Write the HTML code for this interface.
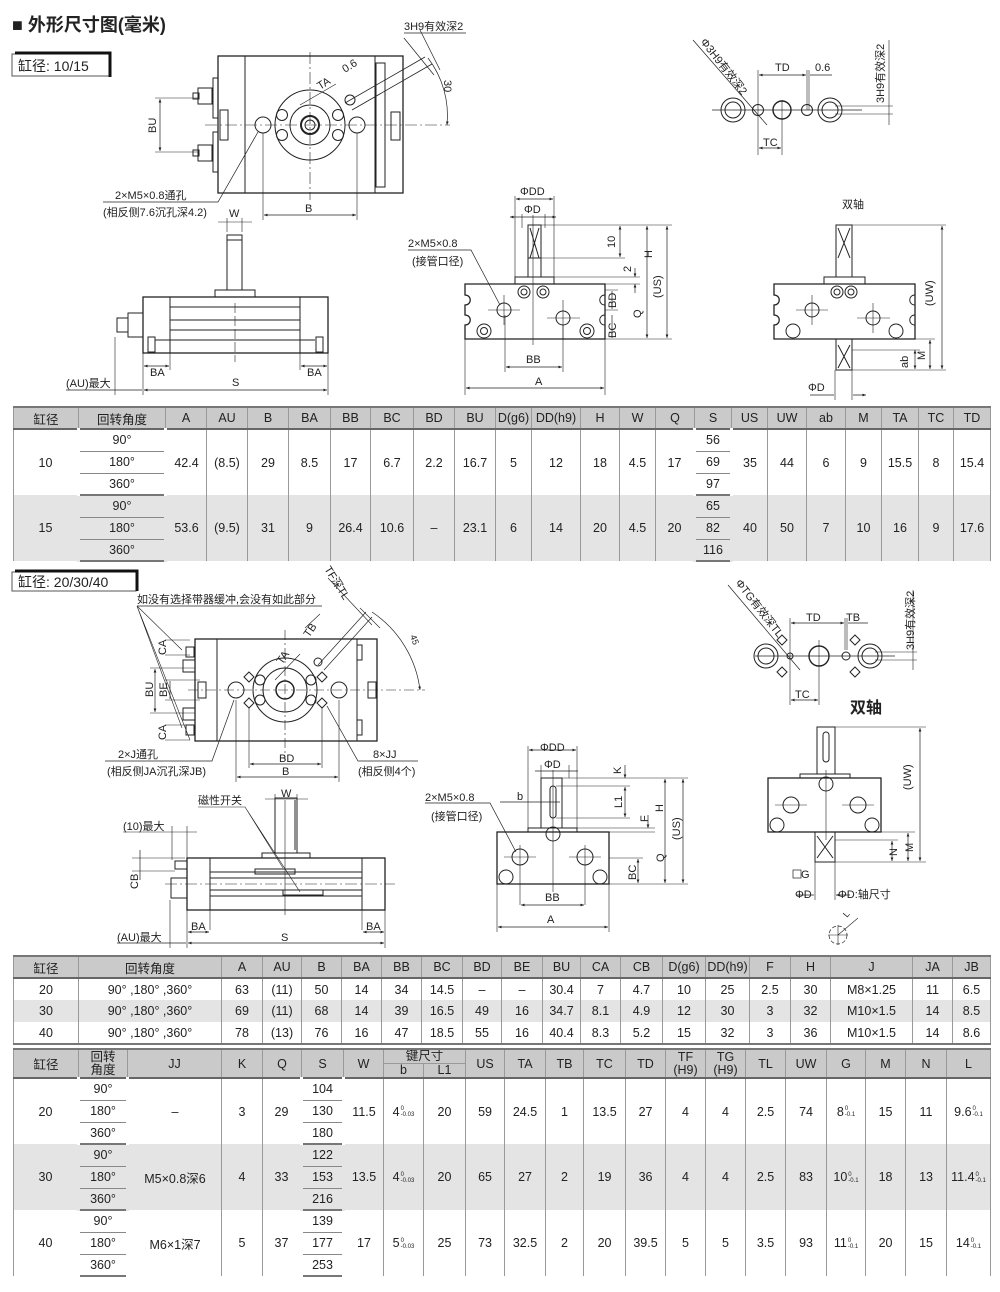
<!DOCTYPE html>
<html><head><meta charset="utf-8">
<style>
*{margin:0;padding:0;box-sizing:border-box}
body{width:1000px;height:1292px;background:#fff;position:relative;overflow:hidden;font-family:"Liberation Sans","Noto Sans CJK SC",sans-serif;color:#222}
svg{position:absolute;left:0;top:0}
svg text{font-family:"Liberation Sans","Noto Sans CJK SC",sans-serif;font-size:11px;fill:#222}
table{position:absolute;left:13px;border-collapse:collapse;table-layout:fixed;font-size:12.5px;text-align:center}
td,th{border-left:1px solid #999;border-right:1px solid #999;height:22px;padding:0;font-weight:normal;white-space:nowrap;overflow:hidden}
th{background:#cacaca;border-bottom:2px solid #666}
tr.e td{border-bottom:2px solid #777}
.g td{background:#e4e4e4}
td.b{border:1px solid #888;border-left:3px solid #fff;border-right:3px solid #fff;outline:0}
.g td.b{border-left:3px solid #e4e4e4;border-right:3px solid #e4e4e4}
table tr:first-child th{border-top:2px solid #777}
.t{display:inline-block;font-size:6px;line-height:6px;vertical-align:middle;text-align:left;margin-left:1px}
</style></head><body>

<svg width="1000" height="1292" viewBox="0 0 1000 1292">
<defs><marker id="a" markerWidth="6" markerHeight="6" refX="5" refY="3" orient="auto-start-reverse"><path d="M0,1 L5,3 L0,5z" fill="#222"/></marker></defs>
<g fill="none" stroke="#222" stroke-width="1">
<rect x="12" y="54" width="97" height="22" stroke="#555"/>
<path d="M15,53 H110 V77" stroke="#111" stroke-width="3"/>
<rect x="218" y="56" width="185" height="137" stroke-width="1.3"/>
<line x1="245" y1="56" x2="245" y2="193"/><line x1="375" y1="56" x2="375" y2="193"/>
<rect x="376" y="63" width="9" height="124"/>
<circle cx="310" cy="125" r="35"/><circle cx="310" cy="125" r="20"/><circle cx="310" cy="125" r="9" stroke-width="2"/><circle cx="310" cy="125" r="5"/>
<circle cx="263" cy="125" r="8"/><circle cx="357" cy="125" r="8"/>
<circle cx="282" cy="115" r="5.5"/><circle cx="282" cy="135" r="5.5"/><circle cx="338" cy="115" r="5.5"/><circle cx="338" cy="135" r="5.5"/>
<rect x="213" y="78" width="5" height="40"/><rect x="213" y="132" width="5" height="40"/>
<rect x="198" y="88" width="14" height="16"/><rect x="193" y="93" width="6" height="6"/><rect x="198" y="145" width="14" height="16"/><rect x="193" y="150" width="6" height="6"/>
<rect x="220" y="110" width="8" height="30"/><rect x="391" y="112" width="9" height="28"/>
<path d="M205,125 H450 M310,52 V200" stroke-width=".6" stroke-dasharray="12,3,2,3"/>
<path d="M155,98 H198 M155,152 H198" stroke-width=".6"/><line x1="160" y1="99" x2="160" y2="151" stroke-width=".7" marker-start="url(#a)" marker-end="url(#a)"/>
<path d="M345,103 L425,57 M352,110 L432,64" stroke-width=".8"/><circle cx="350" cy="100" r="5"/>
<path d="M404,38 L434,75 M420,30 L440,70" stroke-width=".7"/>
<path d="M404,33 H466" stroke-width=".7"/>
<path d="M428,58 A95,95 0 0 1 447,125" stroke-width=".7" marker-end="url(#a)"/>
<line x1="300" y1="105" x2="336" y2="84" stroke-width=".6"/>
<path d="M103,202 H218 L258,132" stroke-width=".7"/>
<path d="M263,133 V220 M357,133 V220" stroke-width=".6"/><line x1="264" y1="215" x2="356" y2="215" stroke-width=".7" marker-start="url(#a)" marker-end="url(#a)"/>
<path d="M218,222 H252 M227,218 V232 M242,218 V232" stroke-width=".6"/>
<rect x="227" y="235" width="15" height="55"/><line x1="227" y1="240" x2="242" y2="240"/>
<rect x="215" y="290" width="40" height="7"/>
<rect x="143" y="297" width="185" height="56" stroke-width="1.3"/>
<path d="M170,297 V353 M300,297 V353 M170,307 H300 M170,320 H300 M170,330 H300 M155,340 H315"/>
<rect x="148" y="337" width="7" height="15"/><rect x="316" y="337" width="7" height="15"/>
<rect x="128" y="313" width="15" height="24"/><rect x="117" y="318" width="11" height="14"/>
<path d="M235,303 V362" stroke-width=".6" stroke-dasharray="10,3"/>
<path d="M115,337 V395 M143,353 V395 M170,353 V370 M300,353 V370 M328,353 V395" stroke-width=".6"/>
<line x1="144" y1="366" x2="169" y2="366" stroke-width=".7" marker-start="url(#a)" marker-end="url(#a)"/>
<line x1="301" y1="366" x2="327" y2="366" stroke-width=".7" marker-start="url(#a)" marker-end="url(#a)"/>
<line x1="144" y1="390" x2="327" y2="390" stroke-width=".7" marker-start="url(#a)" marker-end="url(#a)"/>
<path d="M66,390 H142" stroke-width=".7"/>
<path d="M712,110 H862" stroke-width=".7"/>
<circle cx="733" cy="110" r="12"/><circle cx="733" cy="110" r="8"/><circle cx="758" cy="110" r="5.5"/><circle cx="782" cy="110" r="9" stroke-width="1.4"/><circle cx="807" cy="110" r="5.5"/><circle cx="830" cy="110" r="12"/><circle cx="830" cy="110" r="8"/>
<path d="M693,40 L767,125" stroke-width=".7"/>
<path d="M758,70 V155 M782,100 V155 M807,70 V110 M809,70 V110" stroke-width=".6"/>
<line x1="759" y1="75" x2="806" y2="75" stroke-width=".7" marker-start="url(#a)" marker-end="url(#a)"/>
<path d="M810,75 H832" stroke-width=".7"/>
<line x1="759" y1="148" x2="781" y2="148" stroke-width=".7" marker-start="url(#a)" marker-end="url(#a)"/>
<path d="M835,106 H893 M835,114 H893 M889,40 V125" stroke-width=".6"/>
<path d="M465,284 H605 V339 H465 V325 C472,325 472,315 465,315 V305 C472,305 472,295 465,295 Z" stroke-width="1.3"/>
<path d="M605,295 C598,295 598,305 605,305 M605,315 C598,315 598,325 605,325"/>
<rect x="515" y="277" width="39" height="7"/>
<rect x="528" y="225" width="13" height="52"/><path d="M530,228 L539,258 M539,228 L530,258 M528,258 H541"/>
<circle cx="524" cy="292" r="6"/><circle cx="524" cy="292" r="3"/><circle cx="543" cy="292" r="6"/><circle cx="543" cy="292" r="3"/>
<circle cx="504" cy="310" r="7"/><circle cx="563" cy="318" r="7"/><circle cx="484" cy="331" r="7"/><circle cx="484" cy="331" r="3.5"/><circle cx="587" cy="331" r="7"/><circle cx="587" cy="331" r="3.5"/>
<path d="M488,310 H520 M547,318 H580 M504,295 V325 M563,300 V340 M533,215 V345" stroke-width=".6"/>
<path d="M515,196 V277 M554,196 V277 M522,214 V228 M545,214 V228" stroke-width=".6"/>
<line x1="516" y1="199" x2="553" y2="199" stroke-width=".7" marker-start="url(#a)" marker-end="url(#a)"/>
<path d="M510,217 H556" stroke-width=".7" marker-start="url(#a)" marker-end="url(#a)"/>
<path d="M541,225 H672 M541,258 H625 M554,277 H640 M605,284 H640 M605,290 H618 M605,310 H618 M605,339 H672" stroke-width=".6"/>
<line x1="620" y1="226" x2="620" y2="257" stroke-width=".7" marker-start="url(#a)" marker-end="url(#a)"/>
<line x1="635" y1="268" x2="635" y2="277" stroke-width=".7" marker-end="url(#a)"/><line x1="635" y1="293" x2="635" y2="284" stroke-width=".7" marker-end="url(#a)"/>
<line x1="647" y1="226" x2="647" y2="338" stroke-width=".7" marker-start="url(#a)" marker-end="url(#a)"/>
<line x1="667" y1="226" x2="667" y2="338" stroke-width=".7" marker-start="url(#a)" marker-end="url(#a)"/>
<line x1="612" y1="291" x2="612" y2="309" stroke-width=".7"/><line x1="612" y1="315" x2="612" y2="338" stroke-width=".7"/>
<path d="M465,339 V395 M605,339 V395 M505,315 V372 M563,325 V372" stroke-width=".6"/>
<line x1="506" y1="367" x2="562" y2="367" stroke-width=".7" marker-start="url(#a)" marker-end="url(#a)"/>
<line x1="466" y1="388" x2="604" y2="388" stroke-width=".7" marker-start="url(#a)" marker-end="url(#a)"/>
<path d="M408,250 H471 L500,305" stroke-width=".7"/>
<path d="M774,284 H915 V339 H774 V325 C781,325 781,315 774,315 V305 C781,305 781,295 774,295 Z" stroke-width="1.3"/>
<path d="M915,295 C908,295 908,305 915,305 M915,315 C908,315 908,325 915,325"/>
<rect x="824" y="277" width="41" height="7"/>
<rect x="836" y="225" width="16" height="52"/><path d="M838,228 L850,258 M850,228 L838,258"/>
<rect x="836" y="339" width="16" height="31"/><path d="M838,345 L850,368 M850,345 L838,368"/>
<circle cx="837" cy="292" r="6"/><circle cx="837" cy="292" r="3"/><circle cx="851" cy="292" r="6"/><circle cx="851" cy="292" r="3"/>
<circle cx="812" cy="310" r="7"/><circle cx="873" cy="318" r="7"/><circle cx="793" cy="331" r="7"/><circle cx="896" cy="331" r="7"/>
<path d="M796,310 H828 M857,318 H890 M812,295 V325 M873,303 V333" stroke-width=".6"/>
<path d="M852,225 H946 M852,370 H946 M915,339 H935" stroke-width=".6"/>
<line x1="942" y1="226" x2="942" y2="369" stroke-width=".7" marker-start="url(#a)" marker-end="url(#a)"/>
<line x1="930" y1="340" x2="930" y2="369" stroke-width=".7" marker-start="url(#a)" marker-end="url(#a)"/>
<line x1="915" y1="350" x2="915" y2="369" stroke-width=".7" marker-start="url(#a)" marker-end="url(#a)"/>
<path d="M852,350 H920 M835,370 V400 M852,370 V400" stroke-width=".6"/>
<path d="M810,395 H834 M853,395 H866" stroke-width=".7" marker-end="url(#a)"/>

<rect x="12" y="572" width="124" height="19" stroke="#555"/>
<path d="M15,571 H137 V591" stroke="#111" stroke-width="3"/>
<path d="M137,606 H322" stroke-width=".7"/>
<path d="M137,606 L182,650 M137,606 L182,728 M137,606 L190,740" stroke-width=".6"/>
<rect x="195" y="639" width="182" height="102" stroke-width="1.3"/>
<path d="M217,639 V741 M357,639 V741"/>
<rect x="357" y="645" width="5" height="15"/><rect x="357" y="720" width="5" height="15"/>
<rect x="198" y="682" width="8" height="16"/><rect x="368" y="682" width="8" height="16"/>
<circle cx="285" cy="690" r="32"/><circle cx="285" cy="690" r="22"/><circle cx="285" cy="690" r="9" stroke-width="1.5"/>
<circle cx="236" cy="690" r="8"/><circle cx="339" cy="690" r="8"/>
<circle cx="260" cy="680" r="5"/><circle cx="260" cy="700" r="5"/><circle cx="311" cy="680" r="5"/><circle cx="311" cy="700" r="5"/>
<path d="M249,672 L254,677 L249,682 L244,677Z M249,698 L254,703 L249,708 L244,703Z M322,672 L327,677 L322,682 L317,677Z M322,698 L327,703 L322,708 L317,703Z"/>
<rect x="183" y="660" width="12" height="12"/><rect x="186" y="647" width="8" height="10"/><rect x="183" y="708" width="12" height="12"/><rect x="186" y="725" width="8" height="10"/>
<path d="M188,690 H425 M285,630 V760" stroke-width=".6" stroke-dasharray="10,3,2,3"/>
<path d="M150,668 H195 M150,713 H195 M165,680 H200 M165,700 H200 M165,640 H190 M165,655 H190 M165,725 H190 M165,740 H190" stroke-width=".5"/>
<line x1="155" y1="669" x2="155" y2="712" stroke-width=".7" marker-start="url(#a)" marker-end="url(#a)"/>
<line x1="170" y1="681" x2="170" y2="699" stroke-width=".7"/>
<path d="M318,665 L366,612 M324,670 L372,617" stroke-width=".7"/><circle cx="318" cy="662" r="4"/>
<path d="M360,608 L380,628 M328,578 L372,625" stroke-width=".6"/>
<path d="M372,612 A110,110 0 0 1 420,690" stroke-width=".7" marker-end="url(#a)"/>
<path d="M305,628 L320,614 M275,680 L300,654" stroke-width=".6"/>
<path d="M105,761 H212 L234,700" stroke-width=".7"/>
<path d="M418,761 H358 L327,706" stroke-width=".7"/>
<path d="M236,700 V782 M339,700 V782 M249,708 V768 M322,708 V768" stroke-width=".6"/>
<line x1="250" y1="764" x2="321" y2="764" stroke-width=".7" marker-start="url(#a)" marker-end="url(#a)"/>
<line x1="237" y1="777" x2="338" y2="777" stroke-width=".7" marker-start="url(#a)" marker-end="url(#a)"/>
<path d="M265,799 H308 M275,794 V810 M297,794 V810" stroke-width=".6"/>
<rect x="275" y="798" width="22" height="55"/><line x1="295" y1="800" x2="295" y2="850"/>
<rect x="262" y="853" width="48" height="5"/>
<rect x="187" y="858" width="198" height="52" stroke-width="1.3"/>
<path d="M210,858 V910 M362,858 V910 M210,872 H362 M210,878 H362 M210,890 H362 M210,896 H362"/>
<rect x="255" y="869" width="40" height="5"/><rect x="283" y="890" width="40" height="5"/>
<path d="M165,884 H395" stroke-width=".6" stroke-dasharray="12,3,2,3"/>
<rect x="175" y="861" width="12" height="8"/><rect x="171" y="878" width="16" height="20"/>
<path d="M198,807 H245 L283,868 M245,807 L300,892" stroke-width=".6"/>
<path d="M123,832 H197 M172,826 V860 M187,826 V860" stroke-width=".6"/>
<path d="M132,858 H185 M132,871 H175" stroke-width=".5"/><line x1="140" y1="850" x2="140" y2="880" stroke-width=".7"/>
<path d="M170,900 V948 M187,910 V948 M210,910 V930 M362,910 V930 M385,910 V948 M285,800 V915" stroke-width=".6"/>
<line x1="188" y1="932" x2="209" y2="932" stroke-width=".7" marker-start="url(#a)" marker-end="url(#a)"/>
<line x1="363" y1="932" x2="384" y2="932" stroke-width=".7" marker-start="url(#a)" marker-end="url(#a)"/>
<line x1="188" y1="943" x2="384" y2="943" stroke-width=".7" marker-start="url(#a)" marker-end="url(#a)"/>
<path d="M117,943 H186" stroke-width=".7"/>
<rect x="497" y="832" width="112" height="52" stroke-width="1.3"/>
<rect x="528" y="828" width="49" height="4"/>
<rect x="541" y="778" width="21" height="50"/><rect x="550" y="786" width="6" height="32" rx="3"/>
<circle cx="520" cy="857" r="8"/><circle cx="585" cy="857" r="8"/><circle cx="553" cy="834" r="7"/><circle cx="506" cy="877" r="7"/><circle cx="600" cy="877" r="7"/>
<path d="M504,857 H536 M569,857 H601 M520,845 V905 M585,845 V905 M553,770 V892" stroke-width=".6"/>
<path d="M528,746 V828 M577,746 V828 M541,765 V778 M569,765 V778" stroke-width=".6"/>
<line x1="529" y1="750" x2="576" y2="750" stroke-width=".7" marker-start="url(#a)" marker-end="url(#a)"/>
<path d="M535,771 H578 M500,802 H560" stroke-width=".7"/>
<path d="M562,778 H688 M556,786 H630 M556,818 H630 M577,828 H655 M609,832 H655 M609,858 H643 M609,884 H688" stroke-width=".6"/>
<line x1="625" y1="765" x2="625" y2="778" stroke-width=".7" marker-end="url(#a)"/>
<line x1="625" y1="787" x2="625" y2="817" stroke-width=".7" marker-start="url(#a)" marker-end="url(#a)"/>
<line x1="648" y1="815" x2="648" y2="828" stroke-width=".7" marker-end="url(#a)"/>
<line x1="665" y1="779" x2="665" y2="883" stroke-width=".7" marker-start="url(#a)" marker-end="url(#a)"/>
<line x1="683" y1="779" x2="683" y2="883" stroke-width=".7" marker-start="url(#a)" marker-end="url(#a)"/>
<line x1="638" y1="859" x2="638" y2="883" stroke-width=".7" marker-start="url(#a)" marker-end="url(#a)"/>
<path d="M497,884 V932 M609,884 V932" stroke-width=".6"/>
<line x1="521" y1="905" x2="584" y2="905" stroke-width=".7" marker-start="url(#a)" marker-end="url(#a)"/>
<line x1="498" y1="927" x2="608" y2="927" stroke-width=".7" marker-start="url(#a)" marker-end="url(#a)"/>
<path d="M425,803 H490 L516,852" stroke-width=".7"/>
<path d="M755,656 H895" stroke-width=".7"/>
<circle cx="766" cy="656" r="12"/><circle cx="766" cy="656" r="8"/><circle cx="790" cy="656" r="3"/><circle cx="819" cy="656" r="10" stroke-width="1.4"/><circle cx="846" cy="656" r="4"/><circle cx="870" cy="656" r="12"/><circle cx="870" cy="656" r="8"/>
<path d="M782,635 L787,640 L782,645 L777,640Z M782,667 L787,672 L782,677 L777,672Z M855,635 L860,640 L855,645 L850,640Z M855,667 L860,672 L855,677 L850,672Z"/>
<path d="M728,585 L800,670" stroke-width=".7"/>
<path d="M790,618 V705 M819,640 V705 M845,618 V650 M847,618 V650" stroke-width=".6"/>
<line x1="791" y1="623" x2="844" y2="623" stroke-width=".7" marker-start="url(#a)" marker-end="url(#a)"/>
<path d="M848,623 H868" stroke-width=".7"/>
<line x1="791" y1="700" x2="818" y2="700" stroke-width=".7" marker-start="url(#a)" marker-end="url(#a)"/>
<path d="M875,652 H917 M875,660 H917 M913,590 V670" stroke-width=".6"/>
<rect x="768" y="778" width="113" height="54" stroke-width="1.3"/>
<rect x="800" y="774" width="50" height="4"/>
<rect x="817" y="727" width="18" height="47"/><rect x="823" y="732" width="6" height="30" rx="3"/>
<rect x="815" y="832" width="20" height="30"/><path d="M817,836 L833,858 M833,836 L817,858"/>
<circle cx="826" cy="784" r="7"/><circle cx="791" cy="805" r="8"/><circle cx="858" cy="805" r="8"/><circle cx="777" cy="825" r="7"/><circle cx="872" cy="825" r="7"/>
<path d="M775,805 H807 M842,805 H874 M826,770 V840" stroke-width=".6"/>
<path d="M835,727 H926 M835,862 H926 M881,832 H915 M835,840 H898" stroke-width=".6"/>
<line x1="920" y1="728" x2="920" y2="861" stroke-width=".7" marker-start="url(#a)" marker-end="url(#a)"/>
<line x1="908" y1="833" x2="908" y2="861" stroke-width=".7" marker-start="url(#a)" marker-end="url(#a)"/>
<line x1="892" y1="841" x2="892" y2="861" stroke-width=".7" marker-start="url(#a)" marker-end="url(#a)"/>
<path d="M815,862 V900 M835,862 V900" stroke-width=".6"/>
<path d="M796,895 H814 M850,895 H836" stroke-width=".7" marker-end="url(#a)"/>
<rect x="793" y="870" width="8" height="8" stroke-width=".7"/>
<circle cx="838" cy="935" r="9" stroke-dasharray="4,2" stroke-width=".7"/><path d="M828,935 H848 M838,925 V945 M838,935 L858,918" stroke-width=".6"/>
</g>
<g>
<text x="12" y="31" style="font-size:18px;font-weight:bold">■ 外形尺寸图(毫米)</text>
<text x="18" y="71" style="font-size:14px">缸径: 10/15</text>
<text x="404" y="30">3H9有效深2</text>
<text x="0" y="0" transform="translate(320,90) rotate(-32)">TA</text>
<text x="0" y="0" transform="translate(345,73) rotate(-32)">0.6</text>
<text x="0" y="0" transform="translate(444,80) rotate(90)">30</text>
<text x="0" y="0" transform="translate(156,133) rotate(-90)">BU</text>
<text x="115" y="199">2×M5×0.8通孔</text>
<text x="103" y="216">(相反侧7.6沉孔深4.2)</text>
<text x="305" y="212">B</text>
<text x="229" y="217">W</text>
<text x="150" y="376">BA</text><text x="307" y="376">BA</text>
<text x="232" y="386">S</text>
<text x="66" y="387">(AU)最大</text>
<text x="0" y="0" transform="translate(700,42) rotate(52)">Φ3H9有效深2</text>
<text x="775" y="71">TD</text><text x="815" y="71">0.6</text>
<text x="763" y="146">TC</text>
<text x="0" y="0" transform="translate(884,103) rotate(-90)">3H9有效深2</text>
<text x="520" y="195">ΦDD</text><text x="524" y="213">ΦD</text>
<text x="408" y="247">2×M5×0.8</text><text x="412" y="265">(接管口径)</text>
<text x="0" y="0" transform="translate(615,248) rotate(-90)">10</text>
<text x="0" y="0" transform="translate(631,272) rotate(-90)">2</text>
<text x="0" y="0" transform="translate(652,258) rotate(-90)">H</text>
<text x="0" y="0" transform="translate(661,298) rotate(-90)">(US)</text>
<text x="0" y="0" transform="translate(616,308) rotate(-90)">BD</text>
<text x="0" y="0" transform="translate(616,338) rotate(-90)">BC</text>
<text x="0" y="0" transform="translate(641,318) rotate(-90)">Q</text>
<text x="526" y="363">BB</text><text x="535" y="385">A</text>
<text x="842" y="208">双轴</text>
<text x="0" y="0" transform="translate(933,306) rotate(-90)">(UW)</text>
<text x="0" y="0" transform="translate(908,368) rotate(-90)">ab</text>
<text x="0" y="0" transform="translate(925,360) rotate(-90)">M</text>
<text x="808" y="391">ΦD</text>

<text x="18" y="587" style="font-size:14px">缸径: 20/30/40</text>
<text x="137" y="603">如没有选择带器缓冲,会没有如此部分</text>
<text x="0" y="0" transform="translate(324,569) rotate(58)">TF深TL</text>
<text x="0" y="0" transform="translate(410,636) rotate(70)" style="font-size:9px">45</text>
<text x="0" y="0" transform="translate(309,638) rotate(-55)">TB</text>
<text x="0" y="0" transform="translate(282,665) rotate(-55)">TA</text>
<text x="0" y="0" transform="translate(166,655) rotate(-90)">CA</text>
<text x="0" y="0" transform="translate(166,740) rotate(-90)">CA</text>
<text x="0" y="0" transform="translate(153,697) rotate(-90)">BU</text>
<text x="0" y="0" transform="translate(167,697) rotate(-90)">BE</text>
<text x="118" y="758">2×J通孔</text><text x="107" y="775">(相反侧JA沉孔深JB)</text>
<text x="373" y="758">8×JJ</text><text x="358" y="775">(相反侧4个)</text>
<text x="279" y="762">BD</text><text x="282" y="775">B</text>
<text x="281" y="797">W</text>
<text x="198" y="804">磁性开关</text>
<text x="123" y="830">(10)最大</text>
<text x="0" y="0" transform="translate(138,889) rotate(-90)">CB</text>
<text x="191" y="930">BA</text><text x="366" y="930">BA</text>
<text x="281" y="941">S</text>
<text x="117" y="941">(AU)最大</text>
<text x="540" y="751">ΦDD</text><text x="544" y="768">ΦD</text>
<text x="517" y="800">b</text>
<text x="425" y="801">2×M5×0.8</text><text x="431" y="820">(接管口径)</text>
<text x="0" y="0" transform="translate(621,774) rotate(-90)">K</text>
<text x="0" y="0" transform="translate(622,808) rotate(-90)">L1</text>
<text x="0" y="0" transform="translate(648,822) rotate(-90)">F</text>
<text x="0" y="0" transform="translate(663,812) rotate(-90)">H</text>
<text x="0" y="0" transform="translate(680,840) rotate(-90)">(US)</text>
<text x="0" y="0" transform="translate(664,862) rotate(-90)">Q</text>
<text x="0" y="0" transform="translate(636,880) rotate(-90)">BC</text>
<text x="545" y="901">BB</text><text x="547" y="923">A</text>
<text x="0" y="0" transform="translate(735,583) rotate(52)">ΦTG有效深TL</text>
<text x="806" y="621">TD</text><text x="846" y="621">TB</text>
<text x="795" y="698">TC</text>
<text x="0" y="0" transform="translate(914,650) rotate(-90)">3H9有效深2</text>
<text x="850" y="713" style="font-size:16px;font-weight:bold">双轴</text>
<text x="0" y="0" transform="translate(911,790) rotate(-90)">(UW)</text>
<text x="0" y="0" transform="translate(897,856) rotate(-90)">N</text>
<text x="0" y="0" transform="translate(913,852) rotate(-90)">M</text>
<text x="801" y="878">G</text>
<text x="795" y="898">ΦD</text>
<text x="838" y="898">ΦD:轴尺寸</text>
<text x="0" y="0" transform="translate(847,918) rotate(-50)" style="font-size:9px">L</text>
</g>
</svg>

<table style="top:406px;width:977px">
<colgroup><col style="width:65px"><col style="width:87px"><col style="width:41px"><col style="width:41px"><col style="width:41px"><col style="width:42px"><col style="width:40px"><col style="width:43px"><col style="width:41px"><col style="width:41px"><col style="width:36px"><col style="width:49px"><col style="width:39px"><col style="width:36px"><col style="width:39px"><col style="width:37px"><col style="width:36px"><col style="width:39px"><col style="width:39px"><col style="width:36px"><col style="width:37px"><col style="width:35px"><col style="width:37px"></colgroup>
<tr><th>缸径</th><th>回转角度</th><th>A</th><th>AU</th><th>B</th><th>BA</th><th>BB</th><th>BC</th><th>BD</th><th>BU</th><th>D(g6)</th><th>DD(h9)</th><th>H</th><th>W</th><th>Q</th><th>S</th><th>US</th><th>UW</th><th>ab</th><th>M</th><th>TA</th><th>TC</th><th>TD</th></tr>
<tr><td rowspan="3">10</td><td class="b">90°</td><td rowspan="3">42.4</td><td rowspan="3">(8.5)</td><td rowspan="3">29</td><td rowspan="3">8.5</td><td rowspan="3">17</td><td rowspan="3">6.7</td><td rowspan="3">2.2</td><td rowspan="3">16.7</td><td rowspan="3">5</td><td rowspan="3">12</td><td rowspan="3">18</td><td rowspan="3">4.5</td><td rowspan="3">17</td><td class="b">56</td><td rowspan="3">35</td><td rowspan="3">44</td><td rowspan="3">6</td><td rowspan="3">9</td><td rowspan="3">15.5</td><td rowspan="3">8</td><td rowspan="3">15.4</td></tr>
<tr><td class="b">180°</td><td class="b">69</td></tr>
<tr class="e"><td class="b">360°</td><td class="b">97</td></tr>
<tr class="g"><td rowspan="3">15</td><td class="b">90°</td><td rowspan="3">53.6</td><td rowspan="3">(9.5)</td><td rowspan="3">31</td><td rowspan="3">9</td><td rowspan="3">26.4</td><td rowspan="3">10.6</td><td rowspan="3">–</td><td rowspan="3">23.1</td><td rowspan="3">6</td><td rowspan="3">14</td><td rowspan="3">20</td><td rowspan="3">4.5</td><td rowspan="3">20</td><td class="b">65</td><td rowspan="3">40</td><td rowspan="3">50</td><td rowspan="3">7</td><td rowspan="3">10</td><td rowspan="3">16</td><td rowspan="3">9</td><td rowspan="3">17.6</td></tr>
<tr class="g"><td class="b">180°</td><td class="b">82</td></tr>
<tr class="g e"><td class="b">360°</td><td class="b">116</td></tr>
</table>

<table style="top:955px;width:977px">
<colgroup><col style="width:65px"><col style="width:143px"><col style="width:41px"><col style="width:39px"><col style="width:40px"><col style="width:40px"><col style="width:40px"><col style="width:41px"><col style="width:39px"><col style="width:41px"><col style="width:38px"><col style="width:40px"><col style="width:42px"><col style="width:43px"><col style="width:44px"><col style="width:41px"><col style="width:40px"><col style="width:82px"><col style="width:40px"><col style="width:38px"></colgroup>
<tr><th>缸径</th><th>回转角度</th><th>A</th><th>AU</th><th>B</th><th>BA</th><th>BB</th><th>BC</th><th>BD</th><th>BE</th><th>BU</th><th>CA</th><th>CB</th><th>D(g6)</th><th>DD(h9)</th><th>F</th><th>H</th><th>J</th><th>JA</th><th>JB</th></tr>
<tr><td>20</td><td>90° ,180° ,360°</td><td>63</td><td>(11)</td><td>50</td><td>14</td><td>34</td><td>14.5</td><td>–</td><td>–</td><td>30.4</td><td>7</td><td>4.7</td><td>10</td><td>25</td><td>2.5</td><td>30</td><td>M8×1.25</td><td>11</td><td>6.5</td></tr>
<tr class="g"><td>30</td><td>90° ,180° ,360°</td><td>69</td><td>(11)</td><td>68</td><td>14</td><td>39</td><td>16.5</td><td>49</td><td>16</td><td>34.7</td><td>8.1</td><td>4.9</td><td>12</td><td>30</td><td>3</td><td>32</td><td>M10×1.5</td><td>14</td><td>8.5</td></tr>
<tr class="e"><td>40</td><td>90° ,180° ,360°</td><td>78</td><td>(13)</td><td>76</td><td>16</td><td>47</td><td>18.5</td><td>55</td><td>16</td><td>40.4</td><td>8.3</td><td>5.2</td><td>15</td><td>32</td><td>3</td><td>36</td><td>M10×1.5</td><td>14</td><td>8.6</td></tr>
</table>

<table style="top:1048px;width:977px">
<colgroup><col style="width:65px"><col style="width:49px"><col style="width:94px"><col style="width:41px"><col style="width:39px"><col style="width:42px"><col style="width:40px"><col style="width:40px"><col style="width:42px"><col style="width:39px"><col style="width:41px"><col style="width:38px"><col style="width:42px"><col style="width:40px"><col style="width:40px"><col style="width:40px"><col style="width:40px"><col style="width:41px"><col style="width:39px"><col style="width:40px"><col style="width:41px"><col style="width:44px"></colgroup>
<tr><th rowspan="2" style="height:28px">缸径</th><th rowspan="2" style="line-height:13px">回转<br>角度</th><th rowspan="2">JJ</th><th rowspan="2">K</th><th rowspan="2">Q</th><th rowspan="2">S</th><th rowspan="2">W</th><th colspan="2" style="height:14px;line-height:13px;border-bottom:1px solid #999">键尺寸</th><th rowspan="2">US</th><th rowspan="2">TA</th><th rowspan="2">TB</th><th rowspan="2">TC</th><th rowspan="2">TD</th><th rowspan="2" style="line-height:13px">TF<br>(H9)</th><th rowspan="2" style="line-height:13px">TG<br>(H9)</th><th rowspan="2">TL</th><th rowspan="2">UW</th><th rowspan="2">G</th><th rowspan="2">M</th><th rowspan="2">N</th><th rowspan="2">L</th></tr>
<tr><th style="height:14px;line-height:13px;border-top:0">b</th><th style="height:14px;line-height:13px;border-top:0">L1</th></tr>
<tr><td rowspan="3">20</td><td class="b">90°</td><td rowspan="3">–</td><td rowspan="3">3</td><td rowspan="3">29</td><td class="b">104</td><td rowspan="3">11.5</td><td rowspan="3">4<span class="t">0<br>-0.03</span></td><td rowspan="3">20</td><td rowspan="3">59</td><td rowspan="3">24.5</td><td rowspan="3">1</td><td rowspan="3">13.5</td><td rowspan="3">27</td><td rowspan="3">4</td><td rowspan="3">4</td><td rowspan="3">2.5</td><td rowspan="3">74</td><td rowspan="3">8<span class="t">0<br>-0.1</span></td><td rowspan="3">15</td><td rowspan="3">11</td><td rowspan="3">9.6<span class="t">0<br>-0.1</span></td></tr>
<tr><td class="b">180°</td><td class="b">130</td></tr>
<tr class="e"><td class="b">360°</td><td class="b">180</td></tr>
<tr class="g"><td rowspan="3">30</td><td class="b">90°</td><td rowspan="3">M5×0.8深6</td><td rowspan="3">4</td><td rowspan="3">33</td><td class="b">122</td><td rowspan="3">13.5</td><td rowspan="3">4<span class="t">0<br>-0.03</span></td><td rowspan="3">20</td><td rowspan="3">65</td><td rowspan="3">27</td><td rowspan="3">2</td><td rowspan="3">19</td><td rowspan="3">36</td><td rowspan="3">4</td><td rowspan="3">4</td><td rowspan="3">2.5</td><td rowspan="3">83</td><td rowspan="3">10<span class="t">0<br>-0.1</span></td><td rowspan="3">18</td><td rowspan="3">13</td><td rowspan="3">11.4<span class="t">0<br>-0.1</span></td></tr>
<tr class="g"><td class="b">180°</td><td class="b">153</td></tr>
<tr class="g e"><td class="b">360°</td><td class="b">216</td></tr>
<tr><td rowspan="3">40</td><td class="b">90°</td><td rowspan="3">M6×1深7</td><td rowspan="3">5</td><td rowspan="3">37</td><td class="b">139</td><td rowspan="3">17</td><td rowspan="3">5<span class="t">0<br>-0.03</span></td><td rowspan="3">25</td><td rowspan="3">73</td><td rowspan="3">32.5</td><td rowspan="3">2</td><td rowspan="3">20</td><td rowspan="3">39.5</td><td rowspan="3">5</td><td rowspan="3">5</td><td rowspan="3">3.5</td><td rowspan="3">93</td><td rowspan="3">11<span class="t">0<br>-0.1</span></td><td rowspan="3">20</td><td rowspan="3">15</td><td rowspan="3">14<span class="t">0<br>-0.1</span></td></tr>
<tr><td class="b">180°</td><td class="b">177</td></tr>
<tr class="e"><td class="b">360°</td><td class="b">253</td></tr>
</table>
</body></html>
